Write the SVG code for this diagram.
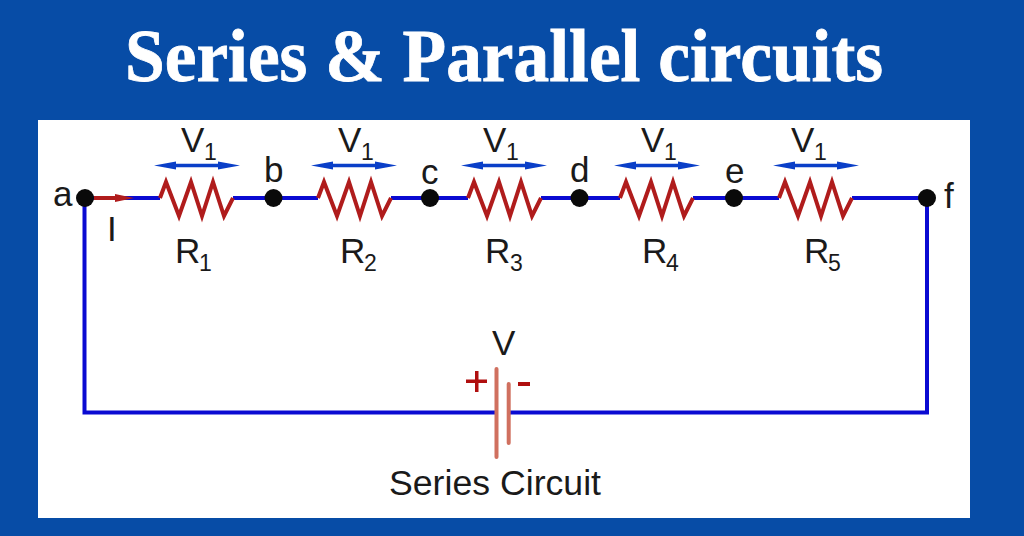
<svg xmlns="http://www.w3.org/2000/svg" width="1024" height="536" viewBox="0 0 1024 536">
<style>
text{font-family:"Liberation Sans",Arial,sans-serif;fill:#1a1a1a;font-size:35px}
.title{font-family:"Liberation Serif","Times New Roman",serif;font-weight:bold;font-size:74px;fill:#fff;stroke:#fff;stroke-width:.8px}
.sub{font-size:23px}
.wire{fill:none;stroke:#0a0ad2;stroke-width:4}
.zig{fill:none;stroke:#b01c1c;stroke-width:4;stroke-linejoin:miter}
.dot{fill:#0a0a0a}
.bat{stroke:#d0705f;stroke-width:4;stroke-linecap:round}
.sign{fill:#b00f0f}
.va{fill:#0a3fc8}
</style>
<defs>
<g id="res"><path class="zig" d="M160 198L166 182L179 216L191 182L202 216L213 182L224 216L233 198"/></g>
<g id="varrow"><path class="va" d="M154 165.500L176 161.500V163.800H218V161.500L240 165.500L218 169.500V167.200H176V169.500Z"/></g>
</defs>
<rect width="1024" height="536" fill="#074ca6"/>
<rect x="38" y="120" width="932" height="398" fill="#fff"/>
<text class="title" x="125" y="81" textLength="758" lengthAdjust="spacingAndGlyphs">Series &amp; Parallel circuits</text>
<g id="connectors">
<path class="wire" d="M85 198H160M233 198H318M391 198H468M541 198H620M693 198H779M852 198H927V412.500H509M496 412.500H84.500V198"/>
<path d="M94 198H118" stroke="#b01c1c" stroke-width="4"/>
<path d="M115 194L134 198L115 202Z" fill="#b01c1c"/>
</g>
<g id="R1"><use href="#res"/><use href="#varrow"/><text x="181" y="152">V</text><text class="sub" x="204" y="160">1</text><text x="175" y="263">R</text><text class="sub" x="199" y="271">1</text></g>
<g id="R2"><use href="#res" x="158"/><use href="#varrow" x="157"/><text x="338" y="152">V</text><text class="sub" x="361" y="160">1</text><text x="340" y="263">R</text><text class="sub" x="364" y="271">2</text></g>
<g id="R3"><use href="#res" x="308"/><use href="#varrow" x="307"/><text x="483" y="152">V</text><text class="sub" x="506" y="160">1</text><text x="485" y="263">R</text><text class="sub" x="510" y="271">3</text></g>
<g id="R4"><use href="#res" x="460"/><use href="#varrow" x="460"/><text x="641" y="152">V</text><text class="sub" x="664" y="160">1</text><text x="642" y="263">R</text><text class="sub" x="666" y="271">4</text></g>
<g id="R5"><use href="#res" x="619"/><use href="#varrow" x="619"/><text x="791" y="152">V</text><text class="sub" x="814" y="160">1</text><text x="804" y="263">R</text><text class="sub" x="828" y="271">5</text></g>
<g id="node-a"><circle class="dot" cx="85" cy="198" r="9"/><text x="53" y="206">a</text></g>
<g id="node-b"><circle class="dot" cx="273.500" cy="198" r="9"/><text x="264" y="182">b</text></g>
<g id="node-c"><circle class="dot" cx="430" cy="198" r="9"/><text x="421" y="184">c</text></g>
<g id="node-d"><circle class="dot" cx="579.500" cy="198" r="9"/><text x="570" y="182">d</text></g>
<g id="node-e"><circle class="dot" cx="734" cy="198" r="9"/><text x="725" y="183">e</text></g>
<g id="node-f"><circle class="dot" cx="927" cy="198" r="9"/><text x="944" y="208">f</text></g>
<g id="current"><text x="107" y="241">I</text></g>
<g id="battery">
<path class="bat" d="M496.500 369V457"/>
<path class="bat" d="M508.700 384V443"/>
<text x="492" y="355">V</text>
<path class="sign" d="M466 379.500H475V371H478.500V379.500H487V383H478.500V392H475V383H466Z"/>
<rect class="sign" x="518" y="382" width="12" height="4"/>
</g>
<text id="caption" x="389" y="495" textLength="212" lengthAdjust="spacingAndGlyphs">Series Circuit</text>
</svg>
